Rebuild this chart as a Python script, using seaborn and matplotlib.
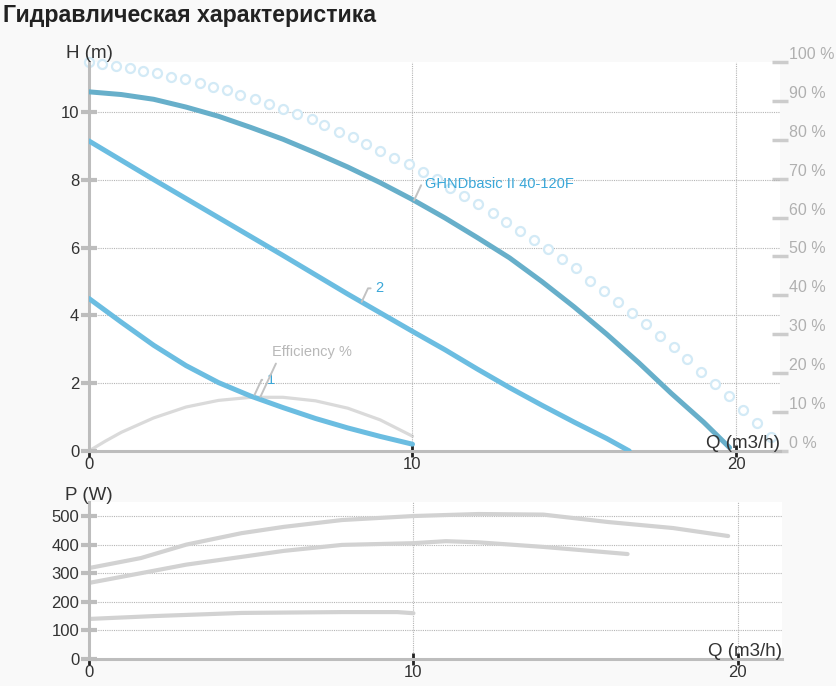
import numpy as np
import pandas as pd
import matplotlib
matplotlib.use("Agg")
import matplotlib.pyplot as plt
import seaborn as sns

sns.set_theme(style="white")
plt.rcParams['font.family'] = ['Liberation Sans', 'DejaVu Sans']

# ---------------------------
# data
# ---------------------------
# H(Q) curves
q_max = [0, 1, 2, 3, 4, 5, 6, 7, 8, 9, 10, 11, 12, 13, 14, 15, 16, 17, 18, 19, 19.8]
h_max = [10.6, 10.52, 10.38, 10.15, 9.88, 9.55, 9.2, 8.8, 8.38, 7.92, 7.42, 6.88,
         6.3, 5.7, 5.0, 4.25, 3.45, 2.6, 1.7, 0.85, 0.1]

q_s2 = [0, 1, 2, 3, 4, 5, 6, 7, 8, 9, 10, 11, 12, 13, 14, 15, 16, 16.7]
h_s2 = [9.15, 8.58, 8.01, 7.45, 6.89, 6.33, 5.77, 5.2, 4.63, 4.08, 3.53, 2.99,
        2.42, 1.87, 1.35, 0.85, 0.37, 0.0]

q_s1 = [0, 1, 2, 3, 4, 5, 6, 7, 8, 9, 10]
h_s1 = [4.5, 3.8, 3.12, 2.52, 2.02, 1.62, 1.28, 0.96, 0.68, 0.43, 0.2]

# dotted envelope (circles)
q_env = [0, 0.39, 0.82, 1.27, 1.68, 2.11, 2.55, 2.98, 3.43, 3.84, 4.27, 4.68, 5.14,
         5.56, 6.0, 6.44, 6.88, 7.28, 7.72, 8.16, 8.57, 9.0, 9.44, 9.88, 10.32, 10.75,
         11.16, 11.6, 12.02, 12.48, 12.89, 13.32, 13.77, 14.18, 14.61, 15.05, 15.48,
         15.92, 16.34, 16.77, 17.21, 17.65, 18.09, 18.5, 18.93, 19.35, 19.78, 20.23,
         20.66, 21.09]
h_env = [11.47, 11.41, 11.37, 11.29, 11.22, 11.16, 11.04, 10.97, 10.86, 10.75, 10.65,
         10.5, 10.38, 10.24, 10.09, 9.94, 9.79, 9.62, 9.42, 9.26, 9.06, 8.86, 8.64,
         8.47, 8.24, 8.02, 7.75, 7.53, 7.29, 7.03, 6.77, 6.5, 6.22, 5.96, 5.66, 5.39,
         5.02, 4.73, 4.4, 4.08, 3.74, 3.4, 3.07, 2.71, 2.34, 1.98, 1.62, 1.21, 0.83, 0.42]

# efficiency (%)
q_eff = [0, 0.5, 1, 2, 3, 4, 5, 6, 7, 8, 9, 10]
eff = [0, 2.5, 4.8, 8.5, 11.3, 13, 13.8, 13.8, 12.9, 11, 8, 3.8]

# P(Q) curves
q_pa = [0, 1.6, 3, 4.7, 6, 7.8, 10, 12, 14, 16, 18, 19.7]
p_a = [318, 353, 400, 440, 462, 486, 500, 507, 505, 479, 458, 430]
q_pb = [0, 1.6, 3, 4.7, 6, 7.8, 10, 11, 12, 14, 16.6]
p_b = [266, 300, 330, 357, 378, 399, 405, 412, 408, 392, 367]
q_pc = [0, 2, 4.7, 7.8, 9.5, 10]
p_c = [140, 150, 161, 164, 164, 160]

h_ticks = [0, 2, 4, 6, 8, 10]
pct_ticks = [0, 10, 20, 30, 40, 50, 60, 70, 80, 90, 100]
p_ticks = [0, 100, 200, 300, 400, 500]
q_ticks = [0, 10, 20]

BG = "#f9f9f9"
AXIS_GREY = "#bdbdbd"
GRID = "#b5b5b5"
MAX_COL = "#67afca"
SPD_COL = "#6bbde1"
LBL_COL = "#3aa7d8"
TXT = "#333333"

fig = plt.figure(figsize=(8.37, 6.86), dpi=100, facecolor=BG)
fig.text(0.004, 0.994, "Гидравлическая характеристика", fontsize=16.7,
         fontweight="bold", color="#222222", ha="left", va="top")

XMAX = 21.36


def style_axis(ax, yticks, ymax):
    ax.set_xlim(0, XMAX)
    ax.set_ylim(0, ymax)
    ax.set_xticks(q_ticks)
    ax.set_yticks(yticks)
    for s in ["top", "right"]:
        ax.spines[s].set_visible(False)
    for s in ["left", "bottom"]:
        ax.spines[s].set_color(AXIS_GREY)
        ax.spines[s].set_linewidth(2.2)
    ax.tick_params(axis="y", direction="inout", length=12, width=3,
                   color=AXIS_GREY, labelsize=12, labelcolor=TXT, pad=1, left=True)
    ax.tick_params(axis="x", direction="inout", length=8, width=2,
                   color="#222222", labelsize=12, labelcolor=TXT, pad=0, bottom=True)
    for y in yticks[1:]:
        ax.axhline(y, color=GRID, lw=0.8, ls=(0, (1, 1)), zorder=0)
    for x in q_ticks[1:]:
        ax.axvline(x, color=GRID, lw=0.8, ls=(0, (1, 1)), zorder=0)
    ax.set_xlabel("")
    ax.set_ylabel("")


# ---------------- top: H(Q) -----------------
ax = fig.add_axes([0.1063, 0.3426, 0.8256, 0.567])
ax_pct = ax.twinx()
ax.set_zorder(ax_pct.get_zorder() + 1)
ax.patch.set_visible(False)
ax_pct.patch.set_visible(True)
ax_pct.patch.set_facecolor("white")

style_axis(ax, h_ticks, 11.48)

ax_pct.set_ylim(0, 100)
ax_pct.set_yticks(pct_ticks)
ax_pct.set_yticklabels([f"{v} %" for v in pct_ticks])
for s in ["top", "right", "left", "bottom"]:
    ax_pct.spines[s].set_visible(False)
ax_pct.tick_params(axis="y", direction="inout", length=11.5, width=2.5,
                   color="#cccccc", labelsize=11.5, labelcolor="#b0b0b0", pad=0.5, right=True)
for lbl in ax_pct.get_yticklabels():
    lbl.set_va("bottom")
ax_pct.grid(False)

sns.lineplot(x=q_eff, y=eff, ax=ax_pct, color="#dadada", linewidth=2.3)

sns.scatterplot(x=q_env, y=h_env, ax=ax, s=42, facecolor="white",
                edgecolor="#d3eaf6", linewidth=1.6, clip_on=False, zorder=2)
sns.lineplot(x=q_s1, y=h_s1, ax=ax, color=SPD_COL, linewidth=3.6, zorder=3)
sns.lineplot(x=q_s2, y=h_s2, ax=ax, color=SPD_COL, linewidth=3.6, zorder=3)
sns.lineplot(x=q_max, y=h_max, ax=ax, color=MAX_COL, linewidth=3.6, zorder=3)

leader = dict(arrowstyle="-", color="#c2c2c2", lw=1.4,
              connectionstyle="angle,angleA=0,angleB=65,rad=0", shrinkA=1, shrinkB=0)
ax.annotate("GHNDbasic II 40-120F", xy=(10.05, 7.4), xytext=(10.4, 7.87),
            color=LBL_COL, fontsize=10.5, va="center", ha="left", arrowprops=leader)
ax.annotate("2", xy=(8.43, 4.4), xytext=(8.85, 4.8),
            color=LBL_COL, fontsize=10.5, va="center", ha="left", arrowprops=leader)
ax.annotate("1", xy=(5.12, 1.66), xytext=(5.5, 2.1),
            color=LBL_COL, fontsize=10.5, va="center", ha="left", arrowprops=leader)
ax.annotate("Efficiency %", xy=(5.3, 1.6), xytext=(5.66, 2.92),
            color="#b8b8b8", fontsize=10.5, va="center", ha="left", arrowprops=leader)

ax.text(0.0, 1.0, "H (m)", transform=ax.transAxes, ha="center", va="bottom",
        fontsize=13.5, color=TXT)
ax.text(1.0, 0.008, "Q (m3/h)", transform=ax.transAxes, ha="right", va="baseline",
        fontsize=13.5, color=TXT)

# ---------------- bottom: P(Q) -----------------
axp = fig.add_axes([0.1063, 0.0394, 0.8280, 0.2288])
axp.set_facecolor("white")
style_axis(axp, p_ticks, 549)
sns.lineplot(x=q_pa, y=p_a, ax=axp, color="#d2d2d2", linewidth=3.0)
sns.lineplot(x=q_pb, y=p_b, ax=axp, color="#d2d2d2", linewidth=3.0)
sns.lineplot(x=q_pc, y=p_c, ax=axp, color="#d2d2d2", linewidth=3.0)
axp.set_xlabel("")
axp.set_ylabel("")
axp.text(0.0, 0.99, "P (W)", transform=axp.transAxes, ha="center", va="bottom",
         fontsize=13.5, color=TXT)
axp.text(1.0, 0.02, "Q (m3/h)", transform=axp.transAxes, ha="right", va="baseline",
         fontsize=13.5, color=TXT)

fig.savefig("out.png", dpi=100, facecolor=BG)
